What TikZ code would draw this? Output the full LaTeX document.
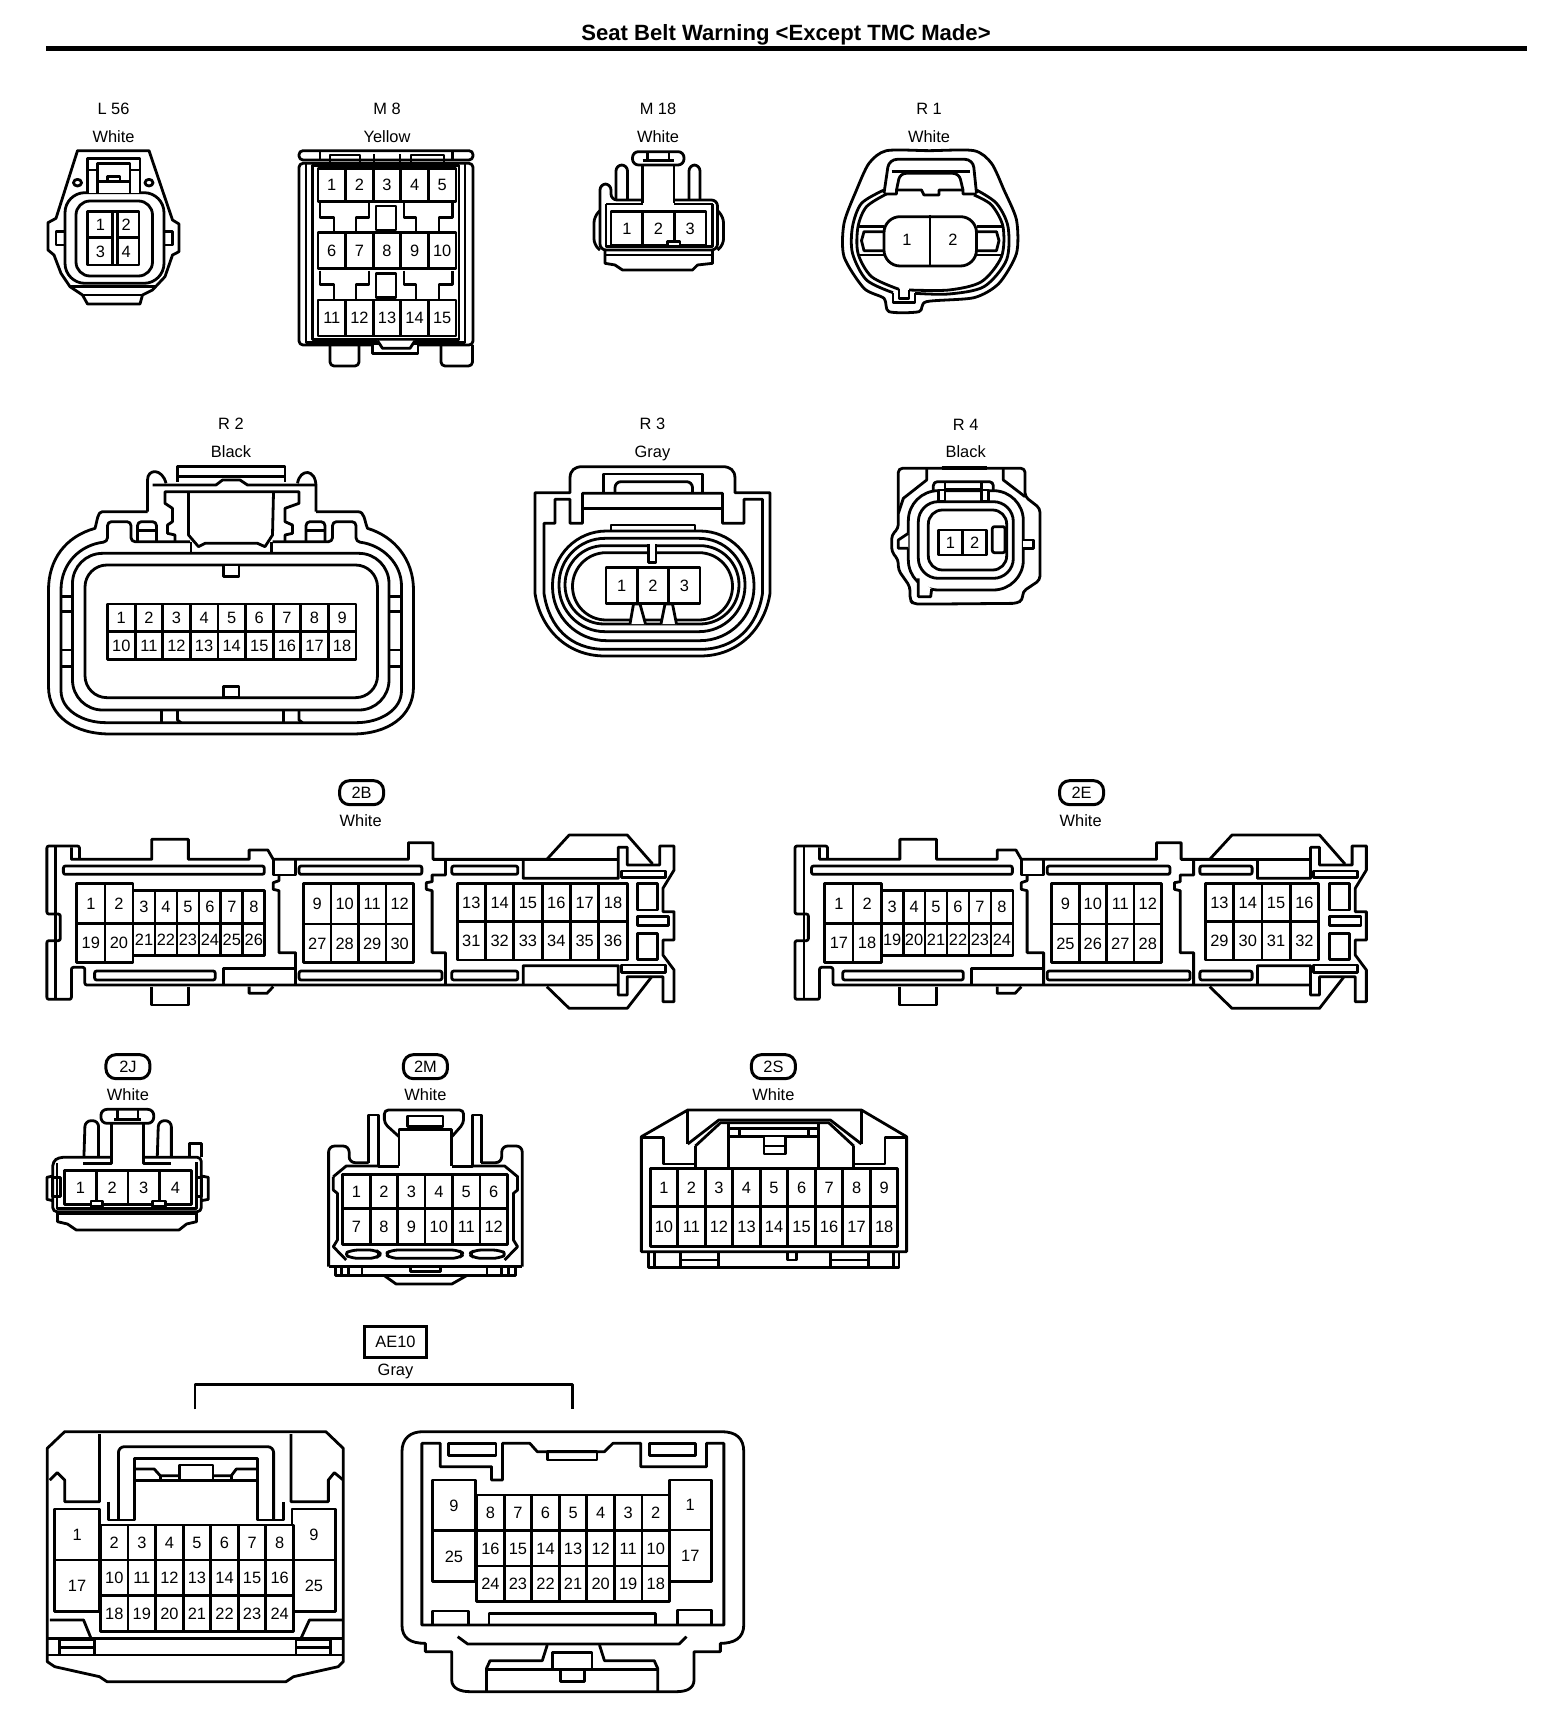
\documentclass[tikz,border=0pt]{standalone}
\usepackage{fontspec}
\setmainfont{Liberation Sans}
\newcommand\pinrow[5]{%
  \foreach \t [count=\i from 0] in {#5} {%
    \draw[ln,fill=white] ({#1+\i*#2},#3) rectangle ({#1+(\i+1)*#2},#4);
    \node[txt] at ({#1+(\i+.5)*#2},{(#3+#4)/2}) {\t};
  }}
\newcommand\onepin[5]{%
  \draw[ln,fill=white] (#1,#2) rectangle (#3,#4);
  \node[txt] at ({(#1+#3)/2},{(#2+#4)/2}) {#5};}
\newcommand\longconn[3]{%
  % left flange and top edge
  \draw[ln,rounded corners=1pt] (178,298)--(178,258)--(105,258)--(105,462)--(135,462)--(135,542)--(105,542)--(105,718)--(160,718)--(160,622)--(190,622)--(190,675)--({1385+#1},675);
  \draw[ln] (125,262)--(125,715);
  \draw[ln] (160,262)--(160,298)--(340,298)--(340,238)--(422,238)--(422,298)--(558,298)--(558,270)--(600,270)--(612,298)--(915,298)--(915,248)--(970,248)--(970,298)--({1225+#2},298)--({1275+#2},225)--({1405+#1},225)--({1462+#1},312);
  \draw[ln] (970,298)--({1385+#1},298);
  \draw[ln] ({1172+#3},298)--({1172+#3},355)--({1385+#1},355)--({1385+#1},262)--({1405+#1},262)--({1405+#1},315)--({1478+#1},315)--({1478+#1},258)--({1510+#1},258)--({1510+#1},330)--({1485+#1},385)--({1485+#1},455)--({1510+#1},455)--({1510+#1},540)--({1485+#1},540)--({1485+#1},585)--({1510+#1},630)--({1510+#1},725)--({1485+#1},725)--({1485+#1},650)--({1405+#1},650)--({1405+#1},705)--({1385+#1},705)--({1385+#1},617)--({1172+#3},617)--({1172+#3},675);
  \draw[ln] ({1225+#2},680)--({1275+#2},745)--({1405+#1},745)--({1460+#1},650);
  % bottom tabs
  \draw[ln] (340,680)--(340,735)--(422,735)--(422,680);
  \draw[ln] (558,680)--(558,700)--(598,700)--(612,680);
  % slots
  \draw[ln,rounded corners=1pt] (142,318) rectangle (592,343);
  \draw[ln,rounded corners=1pt] (670,318) rectangle (945,343);
  \draw[ln,rounded corners=1pt] (1012,318) rectangle ({1160+#3},343);
  \draw[ln,rounded corners=1pt] (212,633) rectangle (482,660);
  \draw[ln,rounded corners=1pt] (670,633) rectangle (990,660);
  \draw[ln,rounded corners=1pt] (1012,633) rectangle ({1160+#3},660);
  \draw[ln] ({1392+#1},333) rectangle ({1490+#1},352);
  \draw[ln] ({1392+#1},615) rectangle ({1490+#1},638);
  \draw[ln] ({1428+#1},470) rectangle ({1498+#1},497);
  \draw[ln] ({1428+#1},370) rectangle ({1472+#1},450);
  \draw[ln] ({1428+#1},520) rectangle ({1472+#1},598);
  \draw[ln] (500,675)--(500,625)--(662,625);
  % walls
  \draw[ln] (612,298)--(612,345)--(662,345)--(662,298);
  \draw[ln] (625,345)--(625,362)--(612,368)--(612,388)--(625,392)--(625,578)--(662,578)--(662,675);
  \draw[ln] (998,298)--(998,345)--(968,345)--(968,365)--(955,368)--(955,388)--(968,392)--(968,578)--(998,578)--(998,675);
}
\tikzset{
  ln/.style={line width=1.4pt,line join=round},
  txt/.style={inner sep=0pt,font=\fontsize{8.2}{8.2}\selectfont,text height=5.9pt,text depth=0pt},
  ttl/.style={inner sep=0pt,font=\fontsize{11.05}{11}\selectfont\bfseries,text height=7.9pt,text depth=0pt},
  tag/.style={inner sep=0pt,draw,line width=1.5pt,rounded corners=5pt,minimum width=22pt,minimum height=12pt,font=\fontsize{8.2}{8.2}\selectfont,text height=5.9pt,text depth=0pt},
  boxtag/.style={inner sep=0pt,draw,line width=1.4pt,minimum width=31pt,minimum height=15.5pt,font=\fontsize{8.2}{8.2}\selectfont,text height=5.9pt,text depth=0pt},
  za/.style={xscale=.5,yscale=1/3},
  zb/.style={shift={(784,0)},xscale=.5,yscale=1/3},
  zc/.style={shift={(0,400)},xscale=.5,yscale=1/3},
  zd/.style={shift={(0,760)},xscale=1/2.24,yscale=1/3},
  ze/.style={shift={(748.1,760)},xscale=1/2.24,yscale=1/3},
  zf/.style={shift={(0,1040)},xscale=1/1.704,yscale=1/3},
  zg/.style={shift={(0,1310)},xscale=1/2.01,yscale=1/3},
  zh/.style={shift={(860,400)},xscale=1/3,yscale=1/3}
}
\begin{document}
\begin{tikzpicture}[x=.5pt,y=-.5pt]
\useasboundingbox (0,0) rectangle (1568,1718);
\fill[white] (0,0) rectangle (1568,1718);
% ---------- title
\node[ttl] (title) at (786,33) {Seat Belt Warning <Except TMC Made>};
\draw[line width=2.5pt] (46,48.3)--(1527,48.3);

% ---------- row 1
\begin{scope}[za]
\node[txt] (l56) at (227,327) {L 56};
\node[txt] at (227,409) {White};
\node[txt] (m8) at (774,327) {M 8};
\node[txt] at (774,409) {Yellow};
\node[txt] (m18) at (1316,327) {M 18};
\node[txt] at (1316,409) {White};
% L56
\draw[ln] (155,452)--(298,452)--(345,660)--(358,672)--(358,755)--(345,765)--(330,830)--(305,870)--(285,885)--(280,912)--(175,912)--(165,885)--(140,860)--(122,820)--(108,765)--(96,750)--(96,668)--(112,655)--cycle;
\draw[ln,rounded corners=10pt] (130,578) rectangle (328,850);
\draw[ln,rounded corners=7pt] (152,603) rectangle (305,828);
\draw[ln] (140,860)--(310,860);
\draw[ln] (165,885)--(285,885);
\draw[ln,fill=white] (175,578)--(175,475)--(280,475)--(280,578);
\draw[ln] (195,578)--(195,490)--(260,490)--(260,578);
\draw[ln] (175,510)--(195,510) (260,510)--(280,510) (195,545)--(260,545);
\draw[ln] (215,545)--(215,530)--(240,530)--(240,545);
\draw[ln] (155,548) ellipse (8 and 10) (298,548) ellipse (8 and 10);
\draw[ln] (130,695)--(112,695)--(112,735)--(130,735);
\draw[ln] (328,695)--(345,695)--(345,735)--(328,735);
\pinrow{175}{51.5}{635}{712}{1,2}
\pinrow{175}{51.5}{712}{795}{3,4}
\draw[ln,fill=white] (225,635) rectangle (235,795);
% M8
\draw[ln,rounded corners=2pt] (598,490) rectangle (946,1035);
\draw[ln,rounded corners=2pt] (598,480)--(598,452)--(946,452)--(946,480)--cycle;
\draw[ln] (612,490)--(612,1028)--(930,1028)--(930,490);
\draw[ln] (625,497) rectangle (918,1018);
\draw[ln] (640,452)--(640,480) (905,452)--(905,480);
\draw[ln] (660,490)--(660,465)--(720,465)--(720,490);
\draw[ln] (748,490)--(748,462) (800,490)--(800,462);
\draw[ln] (822,490)--(822,465)--(888,465)--(888,490);
\draw[ln,rounded corners=2pt] (660,1035)--(660,1098)--(718,1098)--(718,1035);
\draw[ln,rounded corners=2pt] (882,1035)--(882,1098)--(945,1098)--(945,1035);
\draw[ln,fill=white] (745,1035)--(745,1060)--(836,1060)--(836,1035);
\draw[ln,fill=white] (755,1022)--(765,1045)--(820,1045)--(830,1022);
\pinrow{636}{55.2}{505}{605}{1,2,3,4,5}
\pinrow{636}{55.2}{698}{806}{6,7,8,9,10}
\pinrow{636}{55.2}{900}{1008}{11,12,13,14,15}
\foreach \d in {0,202} {
  \draw[ln] (640,610+\d)--(640,652+\d)--(668,652+\d)--(668,698+\d);
  \draw[ln] (712,698+\d)--(712,652+\d)--(738,652+\d)--(738,610+\d);
  \draw[ln] (752,618+\d) rectangle (792,690+\d);
  \draw[ln] (808,610+\d)--(808,652+\d)--(832,652+\d)--(832,698+\d);
  \draw[ln] (878,698+\d)--(878,652+\d)--(905,652+\d)--(905,610+\d);
}
% M18
\draw[ln,rounded corners=3pt] (1265,455) rectangle (1368,495);
\draw[ln] (1295,455)--(1295,482) (1338,455)--(1338,482) (1285,482)--(1348,482);
\draw[ln] (1285,495)--(1285,610) (1348,495)--(1348,610);
\draw[ln,rounded corners=3pt] (1232,600)--(1232,495)--(1255,495)--(1255,600);
\draw[ln,rounded corners=3pt] (1378,600)--(1378,495)--(1400,495)--(1400,600);
\draw[ln,rounded corners=3pt] (1285,600)--(1222,600)--(1222,552)--(1200,552)--(1200,750)--(1435,750)--(1435,600)--(1348,600);
\draw[ln] (1212,612)--(1285,612) (1348,612)--(1425,612);
\draw[ln] (1212,612)--(1212,740)--(1425,740)--(1425,612);
\draw[ln,rounded corners=3pt] (1200,632)--(1188,650)--(1188,735)--(1200,750);
\draw[ln,rounded corners=3pt] (1435,632)--(1447,650)--(1447,735)--(1435,750);
\draw[ln] (1210,765)--(1425,765);
\draw[ln] (1210,750)--(1210,790)--(1230,795)--(1245,810)--(1385,810)--(1395,795)--(1425,790)--(1425,750);
\pinrow{1222}{63.3}{635}{737}{1,2,3}
\draw[ln,fill=white] (1335,725) rectangle (1360,740);
\end{scope}

\begin{scope}[zb]
\node[txt] (r1) at (290,327) {R 1};
\node[txt] at (290,409) {White};
\draw[ln] plot[smooth cycle,tension=.45] coordinates {(205,452)(290,452)(380,452)(415,490)(440,570)(465,660)(465,760)(430,850)(380,893)(285,905)(270,935)(210,935)(200,895)(160,865)(120,770)(120,670)(145,570)(170,490)};
\draw[ln] plot[smooth,tension=.5] coordinates {(200,570)(155,610)(137,680)(137,760)(165,840)(218,878)};
\draw[ln] (218,878)--(218,908)--(262,908)--(262,880);
\draw[ln] plot[smooth,tension=.5] coordinates {(262,880)(330,882)(400,860)(445,780)(448,680)(425,610)(385,570)};
\draw[ln] plot[smooth,tension=.5] coordinates {(205,582)(165,620)(148,680)(148,760)(175,830)(230,868)};
\draw[ln] (230,868)--(230,895)--(250,895)--(250,870);
\draw[ln] plot[smooth,tension=.5] coordinates {(250,870)(330,870)(395,845)(435,770)(438,680)(415,615)(380,585)};
\draw[ln,rounded corners=4pt] (200,580)--(210,478)--(378,478)--(385,580);
\draw[ln,rounded corners=3pt] (225,570)--(232,520)--(350,520)--(358,570);
\draw[ln] (215,515)--(372,515);
\draw[ln] (200,582)--(225,582)--(225,570)--(275,570)--(280,585)--(310,585)--(310,570)--(358,570)--(358,582)--(385,582);
\draw[ln] (148,680)--(200,680) (148,765)--(200,765) (386,680)--(438,680) (386,765)--(438,765);
\draw[ln] (200,695)--(160,695)--(155,722)--(160,752)--(200,752);
\draw[ln] (386,695)--(425,695)--(430,722)--(425,752)--(386,752);
\draw[ln,fill=white,rounded corners=8pt] (200,650) rectangle (385,798);
\draw[ln] (292,645)--(292,798);
\node[txt] at (246,720) {1};
\node[txt] at (338,720) {2};
\end{scope}

% ---------- row 2
\begin{scope}[zc]
\node[txt] (r2) at (462,72) {R 2};
\node[txt] at (462,155) {Black};
\node[txt] (r3) at (1305,72) {R 3};
\node[txt] at (1305,155) {Gray};
% R2
\draw[ln] (295,335)--(295,240) .. controls (295,205) and (325,205) .. (332,250);
\draw[ln] (632,335)--(632,260) .. controls (632,205) and (600,205) .. (595,250);
\draw[ln] (355,245)--(355,200)--(570,200)--(570,245);
\draw[ln] (355,230)--(570,230);
\draw[ln] (305,255)--(432,255)--(445,240)--(480,240)--(495,255)--(632,255);
\draw[ln] (295,335)--(205,335) .. controls (195,335) and (195,360) .. (190,385) .. controls (130,410) and (97,480) .. (97,570) -- (97,860) .. controls (97,950) and (150,1002) .. (220,1002) -- (705,1002) .. controls (775,1002) and (827,950) .. (827,860) -- (827,570) .. controls (827,480) and (790,410) .. (735,385) .. controls (728,360) and (730,335) .. (715,335)--(632,335);
\draw[ln,rounded corners=2pt] (122,570) .. controls (122,490) and (160,435) .. (215,425) -- (215,365)--(262,365)--(262,425)--(380,425);
\draw[ln,rounded corners=2pt] (545,425)--(665,425)--(665,365)--(712,365)--(712,425) .. controls (765,435) and (803,490) .. (803,570)--(803,860) .. controls (803,930) and (760,968) .. (705,968)--(220,968) .. controls (165,968) and (122,930) .. (122,860)--(122,570);
\draw[ln,rounded corners=2pt] (275,425)--(275,365)--(313,365)--(313,425);
\draw[ln,rounded corners=2pt] (612,425)--(612,365)--(650,365)--(650,425);
\draw[ln] (275,392)--(313,392) (612,392)--(650,392);
\draw[ln,rounded corners=15pt] (145,460) rectangle (778,930);
\draw[ln,rounded corners=11pt] (170,495) rectangle (755,893);
\draw[ln,fill=white] (447,495) rectangle (478,530);
\draw[ln,fill=white] (447,860) rectangle (478,893);
\draw[ln] (122,590)--(145,590) (122,635)--(145,635) (122,750)--(145,750) (122,800)--(145,800);
\draw[ln] (778,590)--(803,590) (778,635)--(803,635) (778,750)--(803,750) (778,800)--(803,800);
\draw[ln] (323,930)--(323,968) (355,930)--(355,960)--(362,968) (567,930)--(567,968) (598,930)--(598,960)--(605,968);
\draw[ln] (350,425)--(350,405)--(335,400)--(335,375)--(345,365)--(345,325)--(330,310)--(330,275)--(598,275)--(598,310)--(570,325)--(570,365)--(585,375)--(585,400)--(570,405)--(570,425);
\draw[ln] (377,278)--(377,405)--(397,440)--(410,430)--(515,430)--(530,440)--(545,405)--(547,278);
\draw[ln] (382,425)--(382,458) (543,425)--(543,458);
\pinrow{215}{55.2}{612}{695}{1,2,3,4,5,6,7,8,9}
\pinrow{215}{55.2}{695}{778}{10,11,12,13,14,15,16,17,18}
% R3
\draw[ln] (1140,278)--(1140,235) .. controls (1140,210) and (1150,200) .. (1165,200)--(1445,200) .. controls (1460,200) and (1470,210) .. (1470,235)--(1470,278)--(1540,278)--(1540,580) .. controls (1530,680) and (1480,768) .. (1400,768)--(1210,768) .. controls (1130,768) and (1080,680) .. (1070,580)--(1070,278)--cycle;
\draw[ln] (1088,370)--(1110,370)--(1110,298)--(1140,298)--(1140,370)--(1165,370)--(1165,280)--(1445,280)--(1445,370)--(1488,370)--(1488,298)--(1525,298)--(1525,580) .. controls (1515,680) and (1470,748) .. (1400,748)--(1210,748) .. controls (1140,748) and (1098,680) .. (1088,580)--cycle;
\draw[ln] (1165,325)--(1445,325);
\draw[ln] (1207,278)--(1207,222)--(1405,222)--(1405,278);
\draw[ln,rounded corners=3pt] (1230,278)--(1230,245)--(1385,245)--(1385,278);
\draw[ln] (1222,393)--(1222,375)--(1390,375)--(1390,393);
\draw[ln,rounded corners=27pt] (1105,393) rectangle (1508,722);
\draw[ln,rounded corners=23pt] (1118,415) rectangle (1490,695);
\draw[ln,rounded corners=19.5pt] (1130,437) rectangle (1478,672);
\draw[ln,rounded corners=16.8pt] (1145,458) rectangle (1465,660);
\draw[ln,fill=white] (1297,432)--(1297,488)--(1312,488)--(1312,432);
\fill[white] (1299,430) rectangle (1310,462);
\pinrow{1212}{62.7}{502}{610}{1,2,3}
\draw[ln,fill=white] (1260,672)--(1267,612)--(1280,612)--(1291,672);
\draw[ln,fill=white] (1322,672)--(1330,612)--(1345,612)--(1353,672);
\end{scope}

\begin{scope}[zh]
\node[txt] (r4) at (317,73) {R 4};
\node[txt] at (317,155) {Black};
\draw[ln,rounded corners=2pt] (240,612)--(160,612)--(150,600)--(150,560)--(115,510)--(115,480)--(95,455)--(95,405)--(115,385)--(115,205)--(495,205)--(495,290)--(540,325)--(540,540)--(488,575)--(488,600)--(470,610)--(240,612);
\draw[ln] (200,205)--(200,240)--(130,295)--(115,340);
\draw[ln] (430,205)--(430,240)--(495,290);
\draw[line width=2pt] (245,205)--(380,205);
\draw[ln,rounded corners=2pt] (220,270)--(220,245)--(400,245)--(400,270);
\draw[ln,rounded corners=15pt] (145,272) rectangle (490,570);
\draw[ln,fill=white,rounded corners=10pt] (175,305) rectangle (460,535);
\draw[ln,rounded corners=7pt] (205,330) rectangle (440,510);
\draw[ln,fill=white] (235,270) rectangle (255,305);
\draw[ln,fill=white] (365,270) rectangle (385,305);
\draw[ln] (255,250)--(255,305) (365,250)--(365,305) (255,268)--(365,268);
\draw[ln,fill=white] (145,400)--(115,420)--(115,445)--(145,445);
\draw[ln,fill=white] (490,420)--(520,420)--(520,445)--(490,445);
\draw[ln,fill=white] (175,535)--(175,590)--(212,590)--(215,567);
\pinrow{235}{72.5}{390}{465}{1,2}
\draw[ln,fill=white,rounded corners=1pt] (397,380) rectangle (435,458);
\end{scope}

% ---------- long connectors
\begin{scope}[zd]
\node[tag] (t2b) at (810,98) {2B};
\node[txt] at (808,182) {White};
\longconn{0}{0}{0}
\onepin{172}{370}{235}{490}{1}
\onepin{235}{370}{298}{490}{2}
\onepin{172}{490}{235}{607}{19}
\onepin{235}{490}{298}{607}{20}
\pinrow{298}{49.2}{392}{490}{3,4,5,6,7,8}
\pinrow{298}{49.2}{490}{587}{21,22,23,24,25,26}
\pinrow{680}{61.5}{370}{492}{9,10,11,12}
\pinrow{680}{61.5}{492}{607}{27,28,29,30}
\pinrow{1024}{63.5}{370}{484}{13,14,15,16,17,18}
\pinrow{1024}{63.5}{484}{600}{31,32,33,34,35,36}
\end{scope}
\begin{scope}[ze]
\node[tag] (t2e) at (747,98) {2E};
\node[txt] at (745,182) {White};
\longconn{-125}{-191}{-31}
\onepin{172}{370}{235}{490}{1}
\onepin{235}{370}{298}{490}{2}
\onepin{172}{490}{235}{607}{17}
\onepin{235}{490}{298}{607}{18}
\pinrow{298}{49.2}{392}{490}{3,4,5,6,7,8}
\pinrow{298}{49.2}{490}{587}{19,20,21,22,23,24}
\pinrow{680}{61.5}{370}{492}{9,10,11,12}
\pinrow{680}{61.5}{492}{607}{25,26,27,28}
\pinrow{1024}{63.5}{370}{484}{13,14,15,16}
\pinrow{1024}{63.5}{484}{600}{29,30,31,32}
\end{scope}

% ---------- row 4
\begin{scope}[zf]
\node[tag] (t2j) at (218,80) {2J};
\node[txt] at (218,163) {White};
\node[tag] (t2m) at (725,80) {2M};
\node[txt] at (725,163) {White};
\node[tag] (t2s) at (1318,80) {2S};
\node[txt] at (1318,163) {White};
% 2J
\draw[ln,rounded corners=3pt] (172,208) rectangle (262,250);
\draw[ln] (200,208)--(200,238) (235,208)--(235,238) (195,238)--(240,238);
\draw[ln] (190,250)--(190,370)--(142,370) (245,250)--(245,370)--(292,370);
\draw[ln,rounded corners=3pt] (143,352)--(145,242)--(168,242)--(168,352);
\draw[ln,rounded corners=3pt] (268,352)--(270,242)--(292,242)--(292,352);
\draw[ln,rounded corners=2pt] (190,352)--(100,352)--(90,365)--(90,515)--(343,515)--(343,352)--(245,352);
\draw[ln] (323,352)--(323,310)--(343,310)--(343,352);
\draw[ln] (97,370)--(97,505)--(335,505)--(335,365);
\draw[ln] (90,408)--(80,412)--(80,478)--(90,482);
\draw[ln] (343,408)--(355,412)--(355,478)--(343,482);
\draw[ln] (90,412) rectangle (103,470);
\draw[ln] (335,412) rectangle (343,470);
\draw[ln] (100,522)--(335,522);
\draw[ln] (98,515)--(98,545)--(115,552)--(130,570)--(305,570)--(318,552)--(335,545)--(335,515);
\pinrow{110}{54}{392}{494}{1,2,3,4}
\draw[ln,fill=white] (155,483) rectangle (175,500);
\draw[ln,fill=white] (260,483) rectangle (282,500);
% 2M
\draw[ln,rounded corners=2pt] (680,290)--(655,250)--(655,210)--(790,210)--(790,250)--(770,290);
\draw[ln] (695,228) rectangle (755,260);
\draw[ln] (680,378)--(680,268)--(770,268)--(770,378);
\draw[ln] (628,368)--(628,225)--(645,225)--(645,380)--(680,380);
\draw[ln] (770,380)--(805,380)--(805,225)--(820,225)--(820,368);
\draw[ln,rounded corners=3pt] (560,680)--(560,318)--(595,318)--(595,368)--(628,368);
\draw[ln,rounded corners=3pt] (890,680)--(890,318)--(855,318)--(855,368)--(820,368);
\draw[ln] (568,410)--(590,378)--(645,378) (805,378)--(860,378)--(882,410)--(882,450)--(875,460)--(875,600)--(882,620)--(860,660);
\draw[ln] (568,410)--(568,450)--(575,460)--(575,600)--(568,620)--(590,660);
\draw[ln] (560,680)--(890,680);
\draw[ln,rounded corners=3pt] (585,642)--(600,630)--(640,630)--(650,642)--(640,655)--(600,655)--cycle;
\draw[ln,rounded corners=3pt] (655,642)--(668,630)--(780,630)--(792,642)--(780,655)--(668,655)--cycle;
\draw[ln,rounded corners=3pt] (798,642)--(810,630)--(850,630)--(865,642)--(850,655)--(810,655)--cycle;
\draw[ln] (572,680)--(572,707)--(878,707)--(878,680);
\draw[ln] (582,680)--(582,707) (594,680)--(594,707) (617,680)--(617,707) (830,680)--(830,707) (855,680)--(855,707) (866,680)--(866,707);
\draw[ln] (700,680)--(700,695)--(750,695)--(750,680);
\draw[ln] (655,707)--(675,732)--(770,732)--(795,707);
\pinrow{584}{46.8}{403}{505}{1,2,3,4,5,6}
\pinrow{584}{46.8}{505}{613}{7,8,9,10,11,12}
% 2S
\draw[ln] (1093,290)--(1172,210)--(1468,210)--(1545,290)--(1545,635)--(1093,635)--cycle;
\draw[ln] (1105,635)--(1105,683)--(1532,683)--(1532,635);
\draw[ln] (1115,635)--(1115,683) (1522,635)--(1522,683);
\draw[ln] (1160,635)--(1160,683) (1225,635)--(1225,683) (1160,660)--(1225,660);
\draw[ln] (1415,635)--(1415,683) (1480,635)--(1480,683) (1415,660)--(1480,660);
\draw[ln] (1342,635)--(1342,660)--(1358,660)--(1358,635);
\draw[ln] (1093,292)--(1130,292)--(1130,372)--(1185,372) (1545,292)--(1508,292)--(1508,372)--(1455,372);
\draw[ln] (1172,210)--(1172,312) (1468,210)--(1468,312);
\draw[ln] (1172,312)--(1225,240)--(1415,240)--(1468,312);
\draw[ln] (1185,318)--(1185,385) (1455,318)--(1455,385);
\draw[ln] (1185,318)--(1228,248)--(1412,248)--(1455,318);
\draw[ln] (1242,245)--(1242,380) (1395,245)--(1395,380);
\draw[ln] (1242,265)--(1395,265) (1242,290)--(1395,290);
\draw[ln] (1260,265)--(1260,290) (1378,265)--(1378,290);
\draw[ln,fill=white] (1302,290)--(1302,342)--(1338,342)--(1338,290);
\draw[ln] (1302,318)--(1338,318);
\pinrow{1108}{46.9}{385}{500}{1,2,3,4,5,6,7,8,9}
\pinrow{1108}{46.9}{500}{620}{10,11,12,13,14,15,16,17,18}
\end{scope}

% ---------- AE10
\begin{scope}[zg]
\node[boxtag] (ae) at (795,95) {AE10};
\node[txt] at (795,180) {Gray};
\draw[ln] (392,298)--(392,224)--(1150,224)--(1150,298);
% left
\draw[ln] (130,365)--(655,365)--(690,415)--(690,1055)--(680,1070)--(590,1100)--(575,1115)--(215,1115)--(200,1100)--(110,1070)--(95,1055)--(95,415)--cycle;
\draw[ln] (200,372)--(200,575)--(130,575)--(130,510)--(115,488)--(100,510);
\draw[ln] (585,372)--(585,575)--(660,575)--(660,510)--(672,488)--(690,510);
\draw[ln,rounded corners=3pt] (238,630)--(238,410)--(550,410)--(550,630);
\draw[ln] (218,575)--(218,630)--(270,630)--(270,445)--(517,445)--(517,630)--(570,630)--(570,575);
\draw[ln] (270,477)--(310,477)--(322,497)--(360,497) (428,497)--(465,497)--(475,477)--(517,477);
\draw[ln] (270,512)--(517,512);
\draw[ln] (360,512)--(360,465)--(428,465)--(428,512);
\draw[ln] (322,497)--(322,512) (465,497)--(465,512);
\draw[ln] (100,930)--(168,930)--(183,985) (690,930)--(622,930)--(605,985);
\draw[ln] (95,985)--(690,985) (95,1035)--(690,1035);
\draw[ln] (120,990) rectangle (190,1035);
\draw[ln] (120,1012)--(190,1012);
\draw[ln] (595,990) rectangle (665,1035);
\draw[ln] (595,1012)--(665,1012);
\onepin{110}{597}{200}{750}{1}
\onepin{110}{750}{200}{905}{17}
\onepin{587}{597}{675}{750}{9}
\onepin{587}{750}{675}{905}{25}
\pinrow{202}{55.4}{645}{750}{2,3,4,5,6,7,8}
\pinrow{202}{55.4}{750}{857}{10,11,12,13,14,15,16}
\pinrow{202}{55.4}{857}{965}{18,19,20,21,22,23,24}
% right
\draw[ln] (850,365)--(1450,365) .. controls (1480,365) and (1495,385) .. (1495,425)--(1495,945) .. controls (1495,985) and (1475,1000) .. (1448,1000)--(1448,1025)--(1395,1025)--(1395,1110) .. controls (1395,1135) and (1380,1145) .. (1360,1145)--(945,1145) .. controls (925,1145) and (908,1135) .. (908,1110)--(908,1025)--(855,1025)--(855,1000) .. controls (825,1000) and (808,985) .. (808,945)--(808,425) .. controls (808,385) and (825,365) .. (850,365)--cycle;
\draw[ln] (848,400)--(885,400)--(885,470)--(988,470)--(988,510)--(1010,510)--(1010,400)--(1065,400)--(1080,425)--(1215,425)--(1232,400)--(1288,400)--(1288,470)--(1420,470)--(1420,400)--(1455,400)--(1455,945)--(848,945)--cycle;
\draw[ln] (902,400) rectangle (997,437);
\draw[ln] (1305,400) rectangle (1398,437);
\draw[ln] (1100,425) rectangle (1200,450);
\draw[ln] (870,945)--(870,903)--(942,903)--(942,945);
\draw[ln] (983,945)--(983,910)--(1318,910)--(1318,945);
\draw[ln] (1362,945)--(1362,900)--(1430,900)--(1430,945);
\draw[ln] (920,980)--(940,1002)--(1365,1002)--(1380,980);
\draw[ln] (1100,1005)--(1090,1052)--(985,1052)--(978,1075)--(978,1145);
\draw[ln] (1205,1005)--(1215,1052)--(1315,1052)--(1322,1075)--(1322,1145);
\draw[ln] (978,1078)--(1322,1078);
\draw[ln] (1110,1078)--(1110,1028)--(1190,1028)--(1190,1078);
\draw[ln] (1127,1078)--(1127,1115)--(1175,1115)--(1175,1078);
\onepin{870}{510}{955}{662}{9}
\onepin{870}{662}{955}{815}{25}
\onepin{1345}{510}{1430}{660}{1}
\onepin{1345}{660}{1430}{815}{17}
\pinrow{958}{55.4}{555}{662}{8,7,6,5,4,3,2}
\pinrow{958}{55.4}{662}{768}{16,15,14,13,12,11,10}
\pinrow{958}{55.4}{768}{875}{24,23,22,21,20,19,18}
\end{scope}
\end{tikzpicture}
\end{document}
